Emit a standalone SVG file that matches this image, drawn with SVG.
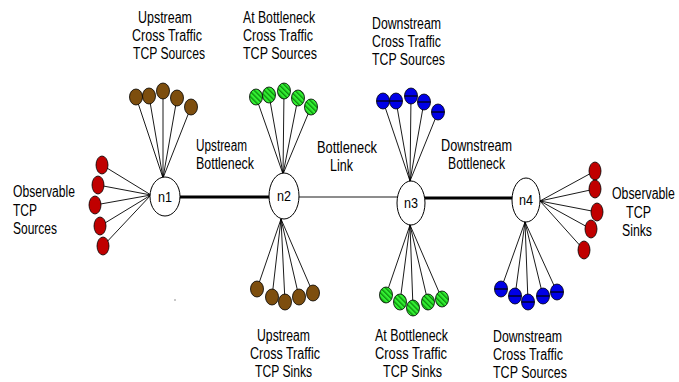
<svg xmlns="http://www.w3.org/2000/svg" width="679" height="382" viewBox="0 0 679 382">
<style>
text{font-family:"Liberation Sans",Arial,sans-serif;font-size:16px;fill:#000}
.hub{fill:#fff;stroke:#000;stroke-width:1}
.lbl{font-size:15px}
.c{stroke:#000;stroke-width:0.9;fill:none}
.thick{stroke:#000;stroke-width:3;fill:none}
.red{fill:#c00000;stroke:#000;stroke-width:0.8}
.brown{fill:#7d4e0e;stroke:#000;stroke-width:0.8}
.green{fill:url(#hatch);stroke:#000;stroke-width:0.8}
.blue{fill:#0000e6;stroke:#000;stroke-width:0.8}
.bar{stroke:#000;stroke-width:1.2}
</style>
<defs>
<pattern id="hatch" patternUnits="userSpaceOnUse" width="3.6" height="3.6" patternTransform="rotate(-45)">
<rect width="3.6" height="3.6" fill="#33ee33"/>
<rect width="1.3" height="3.6" fill="#0a8a0a"/>
</pattern>
</defs>
<rect width="679" height="382" fill="#fff"/>

<g id="connectors">
<line class="thick" x1="165" y1="197" x2="284" y2="197"/>
<line class="c" x1="284" y1="197" x2="411" y2="197"/>
<line class="thick" x1="411" y1="198" x2="526" y2="198"/>
<line class="c" x1="102" y1="165" x2="151" y2="195"/>
<line class="c" x1="98" y1="185" x2="151" y2="195"/>
<line class="c" x1="95" y1="205" x2="151" y2="195"/>
<line class="c" x1="100" y1="226" x2="151" y2="195"/>
<line class="c" x1="103" y1="246" x2="151" y2="195"/>
<line class="c" x1="136" y1="97" x2="163" y2="178"/>
<line class="c" x1="149" y1="96" x2="163" y2="178"/>
<line class="c" x1="163" y1="91" x2="163" y2="178"/>
<line class="c" x1="177" y1="98" x2="163" y2="178"/>
<line class="c" x1="191" y1="107" x2="163" y2="178"/>
<line class="c" x1="256" y1="97" x2="283" y2="174"/>
<line class="c" x1="269" y1="95" x2="283" y2="174"/>
<line class="c" x1="284" y1="91" x2="283" y2="174"/>
<line class="c" x1="298" y1="98" x2="283" y2="174"/>
<line class="c" x1="311" y1="107" x2="283" y2="174"/>
<line class="c" x1="257" y1="289" x2="281" y2="219"/>
<line class="c" x1="272" y1="297" x2="281" y2="219"/>
<line class="c" x1="285" y1="302" x2="281" y2="219"/>
<line class="c" x1="299" y1="297" x2="281" y2="219"/>
<line class="c" x1="313" y1="293" x2="281" y2="219"/>
<line class="c" x1="383" y1="101" x2="410" y2="181"/>
<line class="c" x1="396" y1="101" x2="410" y2="181"/>
<line class="c" x1="411" y1="96" x2="410" y2="181"/>
<line class="c" x1="424" y1="102" x2="410" y2="181"/>
<line class="c" x1="438" y1="112" x2="410" y2="181"/>
<line class="c" x1="386" y1="295" x2="410" y2="225"/>
<line class="c" x1="400" y1="302" x2="410" y2="225"/>
<line class="c" x1="413" y1="308" x2="410" y2="225"/>
<line class="c" x1="428" y1="302" x2="410" y2="225"/>
<line class="c" x1="442" y1="299" x2="410" y2="225"/>
<line class="c" x1="501" y1="289" x2="525" y2="222"/>
<line class="c" x1="515" y1="296" x2="525" y2="222"/>
<line class="c" x1="528" y1="302" x2="525" y2="222"/>
<line class="c" x1="543" y1="296" x2="525" y2="222"/>
<line class="c" x1="557" y1="292" x2="525" y2="222"/>
<line class="c" x1="595" y1="171" x2="540" y2="201"/>
<line class="c" x1="595" y1="189" x2="540" y2="201"/>
<line class="c" x1="597" y1="212" x2="540" y2="201"/>
<line class="c" x1="591" y1="229" x2="540" y2="201"/>
<line class="c" x1="584" y1="250" x2="540" y2="201"/>
</g>

<g id="n1"><ellipse class="hub" cx="165" cy="196.5" rx="15" ry="19.5"/><text class="lbl" x="158" y="202" textLength="14" lengthAdjust="spacingAndGlyphs">n1</text></g>
<g id="n2"><ellipse class="hub" cx="284" cy="196" rx="15" ry="23"/><text class="lbl" x="277" y="201" textLength="14" lengthAdjust="spacingAndGlyphs">n2</text></g>
<g id="n3"><ellipse class="hub" cx="411" cy="203" rx="14" ry="22"/><text class="lbl" x="404" y="208" textLength="14" lengthAdjust="spacingAndGlyphs">n3</text></g>
<g id="n4"><ellipse class="hub" cx="526" cy="200" rx="14" ry="22"/><text class="lbl" x="519" y="205" textLength="14" lengthAdjust="spacingAndGlyphs">n4</text></g>

<g id="observable-sources">
<ellipse class="red" cx="102" cy="165" rx="6" ry="9"/>
<ellipse class="red" cx="98" cy="185" rx="6" ry="9"/>
<ellipse class="red" cx="95" cy="205" rx="6" ry="9"/>
<ellipse class="red" cx="100" cy="226" rx="6" ry="9"/>
<ellipse class="red" cx="103" cy="246" rx="6" ry="9"/>
</g>
<g id="observable-sinks">
<ellipse class="red" cx="595" cy="171" rx="6" ry="9"/>
<ellipse class="red" cx="595" cy="189" rx="6" ry="9"/>
<ellipse class="red" cx="597" cy="212" rx="6" ry="9"/>
<ellipse class="red" cx="591" cy="229" rx="6" ry="9"/>
<ellipse class="red" cx="584" cy="250" rx="6" ry="9"/>
</g>
<g id="upstream-sources">
<ellipse class="brown" cx="136" cy="97" rx="6.5" ry="8"/>
<ellipse class="brown" cx="149" cy="96" rx="6.5" ry="8"/>
<ellipse class="brown" cx="163" cy="91" rx="6.5" ry="8"/>
<ellipse class="brown" cx="177" cy="98" rx="6.5" ry="8"/>
<ellipse class="brown" cx="191" cy="107" rx="6.5" ry="8"/>
</g>
<g id="bottleneck-sources">
<ellipse class="green" cx="256" cy="97" rx="6.5" ry="8"/>
<ellipse class="green" cx="269" cy="95" rx="6.5" ry="8"/>
<ellipse class="green" cx="284" cy="91" rx="6.5" ry="8"/>
<ellipse class="green" cx="298" cy="98" rx="6.5" ry="8"/>
<ellipse class="green" cx="311" cy="107" rx="6.5" ry="8"/>
</g>
<g id="downstream-sources-top">
<ellipse class="blue" cx="383" cy="101" rx="6.5" ry="8"/><line class="bar" x1="376.5" y1="101" x2="389.5" y2="101"/>
<ellipse class="blue" cx="396" cy="101" rx="6.5" ry="8"/><line class="bar" x1="389.5" y1="101" x2="402.5" y2="101"/>
<ellipse class="blue" cx="411" cy="96" rx="6.5" ry="8"/><line class="bar" x1="404.5" y1="96" x2="417.5" y2="96"/>
<ellipse class="blue" cx="424" cy="102" rx="6.5" ry="8"/><line class="bar" x1="417.5" y1="102" x2="430.5" y2="102"/>
<ellipse class="blue" cx="438" cy="112" rx="6.5" ry="8"/><line class="bar" x1="431.5" y1="112" x2="444.5" y2="112"/>
</g>
<g id="upstream-sinks">
<ellipse class="brown" cx="257" cy="289" rx="6.5" ry="8"/>
<ellipse class="brown" cx="272" cy="297" rx="6.5" ry="8"/>
<ellipse class="brown" cx="285" cy="302" rx="6.5" ry="8"/>
<ellipse class="brown" cx="299" cy="297" rx="6.5" ry="8"/>
<ellipse class="brown" cx="313" cy="293" rx="6.5" ry="8"/>
</g>
<g id="bottleneck-sinks">
<ellipse class="green" cx="386" cy="295" rx="6.5" ry="8"/>
<ellipse class="green" cx="400" cy="302" rx="6.5" ry="8"/>
<ellipse class="green" cx="413" cy="308" rx="6.5" ry="8"/>
<ellipse class="green" cx="428" cy="302" rx="6.5" ry="8"/>
<ellipse class="green" cx="442" cy="299" rx="6.5" ry="8"/>
</g>
<g id="downstream-sources-bottom">
<ellipse class="blue" cx="501" cy="289" rx="6.5" ry="8"/><line class="bar" x1="494.5" y1="289" x2="507.5" y2="289"/>
<ellipse class="blue" cx="515" cy="296" rx="6.5" ry="8"/><line class="bar" x1="508.5" y1="296" x2="521.5" y2="296"/>
<ellipse class="blue" cx="528" cy="302" rx="6.5" ry="8"/><line class="bar" x1="521.5" y1="302" x2="534.5" y2="302"/>
<ellipse class="blue" cx="543" cy="296" rx="6.5" ry="8"/><line class="bar" x1="536.5" y1="296" x2="549.5" y2="296"/>
<ellipse class="blue" cx="557" cy="292" rx="6.5" ry="8"/><line class="bar" x1="550.5" y1="292" x2="563.5" y2="292"/>
</g>

<g id="labels">
<text x="138" y="23" textLength="54" lengthAdjust="spacingAndGlyphs">Upstream</text>
<text x="132" y="41" textLength="70" lengthAdjust="spacingAndGlyphs">Cross Traffic</text>
<text x="133" y="59" textLength="72" lengthAdjust="spacingAndGlyphs">TCP Sources</text>

<text x="243" y="23" textLength="72" lengthAdjust="spacingAndGlyphs">At Bottleneck</text>
<text x="243" y="41" textLength="70" lengthAdjust="spacingAndGlyphs">Cross Traffic</text>
<text x="243" y="59" textLength="74" lengthAdjust="spacingAndGlyphs">TCP Sources</text>

<text x="372" y="29" textLength="69" lengthAdjust="spacingAndGlyphs">Downstream</text>
<text x="372" y="47" textLength="69" lengthAdjust="spacingAndGlyphs">Cross Traffic</text>
<text x="372" y="65" textLength="73" lengthAdjust="spacingAndGlyphs">TCP Sources</text>

<text x="196" y="151" textLength="51" lengthAdjust="spacingAndGlyphs">Upstream</text>
<text x="196" y="169" textLength="58" lengthAdjust="spacingAndGlyphs">Bottleneck</text>

<text x="317" y="153" textLength="60" lengthAdjust="spacingAndGlyphs">Bottleneck</text>
<text x="330" y="171" textLength="23" lengthAdjust="spacingAndGlyphs">Link</text>

<text x="441" y="151" textLength="71" lengthAdjust="spacingAndGlyphs">Downstream</text>
<text x="448" y="169" textLength="57" lengthAdjust="spacingAndGlyphs">Bottleneck</text>

<text x="13" y="197" textLength="62" lengthAdjust="spacingAndGlyphs">Observable</text>
<text x="13" y="215.5" textLength="24" lengthAdjust="spacingAndGlyphs">TCP</text>
<text x="13" y="234" textLength="44" lengthAdjust="spacingAndGlyphs">Sources</text>

<text transform="translate(612 199) scale(0.77 1)">Observable</text>
<text x="626" y="217.5" textLength="25" lengthAdjust="spacingAndGlyphs">TCP</text>
<text x="622" y="236" textLength="30" lengthAdjust="spacingAndGlyphs">Sinks</text>

<text x="257" y="341" textLength="53" lengthAdjust="spacingAndGlyphs">Upstream</text>
<text x="250" y="359" textLength="70" lengthAdjust="spacingAndGlyphs">Cross Traffic</text>
<text x="255" y="377" textLength="57" lengthAdjust="spacingAndGlyphs">TCP Sinks</text>

<text x="375" y="341" textLength="73" lengthAdjust="spacingAndGlyphs">At Bottleneck</text>
<text x="375" y="359" textLength="72" lengthAdjust="spacingAndGlyphs">Cross Traffic</text>
<text x="383" y="377" textLength="59" lengthAdjust="spacingAndGlyphs">TCP Sinks</text>

<text x="493" y="342" textLength="69" lengthAdjust="spacingAndGlyphs">Downstream</text>
<text x="493" y="360" textLength="70" lengthAdjust="spacingAndGlyphs">Cross Traffic</text>
<text x="493" y="378" textLength="74" lengthAdjust="spacingAndGlyphs">TCP Sources</text>
</g>
<circle cx="175" cy="300" r="0.7" fill="#666"/>
</svg>
